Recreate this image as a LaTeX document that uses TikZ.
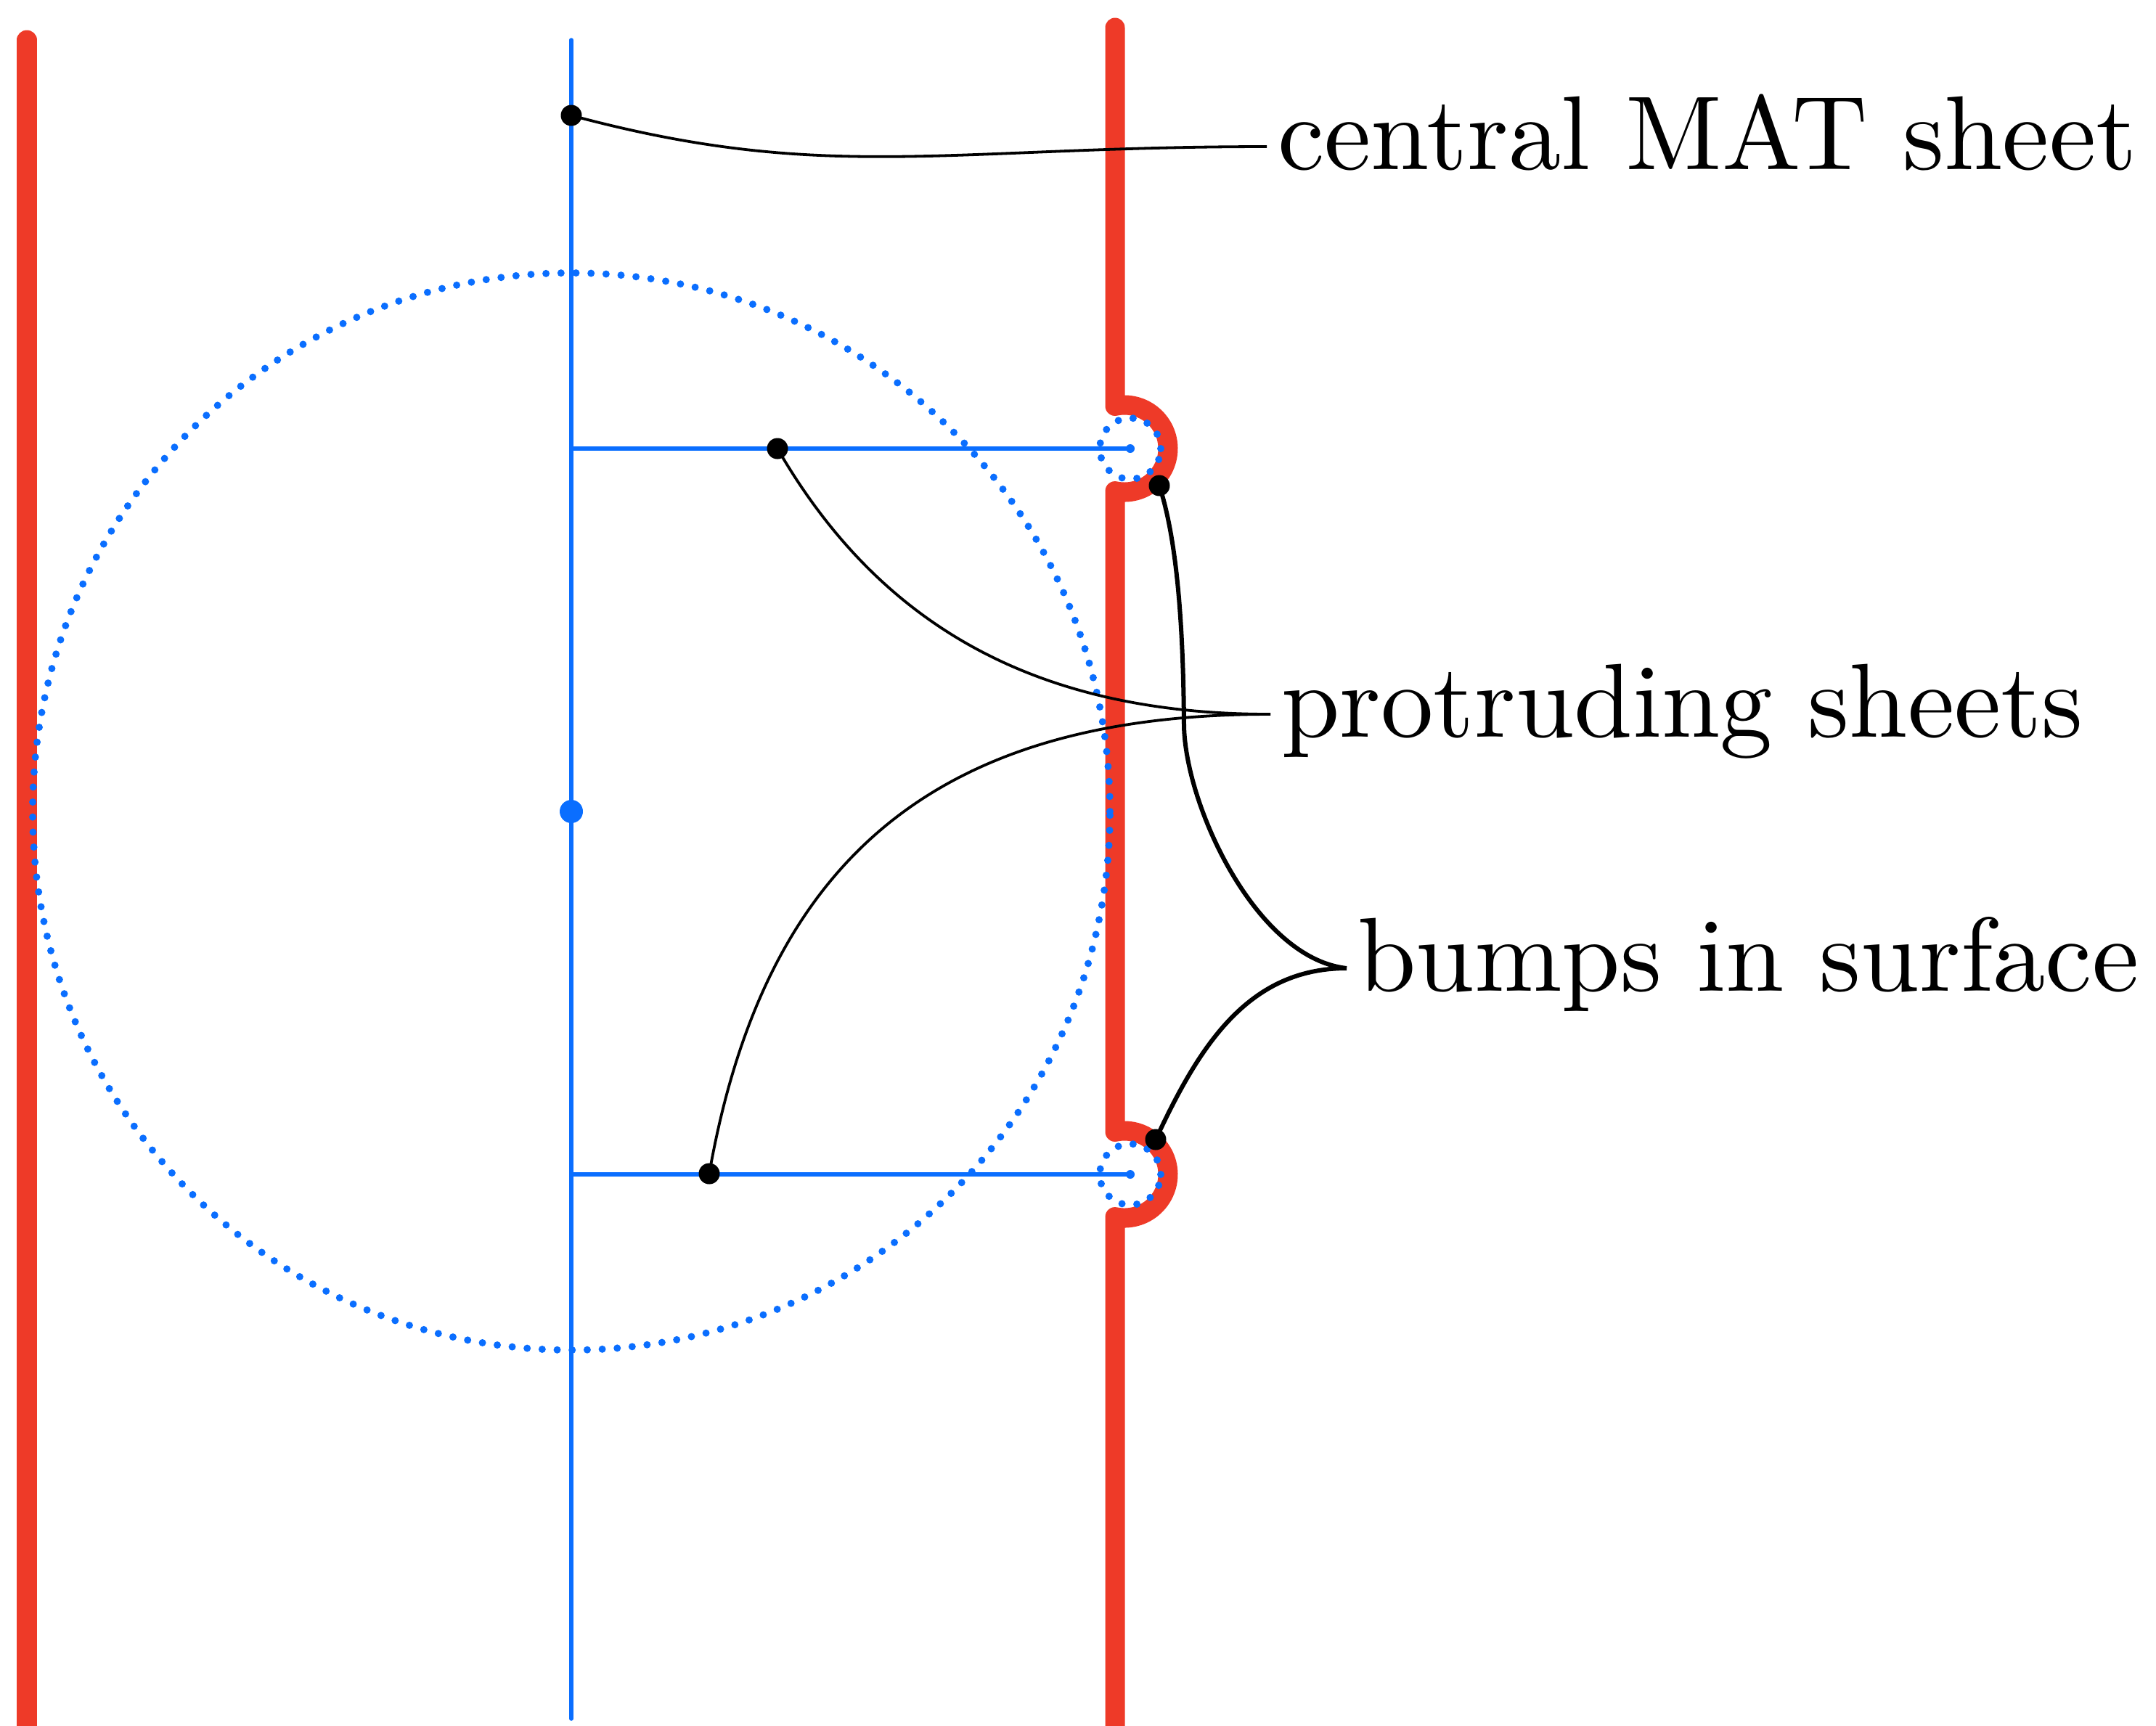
\documentclass[tikz,border=0pt]{standalone}
\usepackage{xcolor}
\usepackage{tikz}
\usetikzlibrary{calc}
\definecolor{matRed}{HTML}{EE3A28}
\definecolor{matBlue}{HTML}{0A6EFF}
\tikzset{
  surface/.style={draw=matRed, line width=2.7mm, line cap=round, line join=round},
  matline/.style={draw=matBlue, line width=0.55mm, line cap=round},
  ballline/.style={draw=matBlue, line width=1.0mm, line cap=round, dash pattern=on 0pt off 2.07mm},
  pin/.style={circle, fill=black, inner sep=0pt, minimum size=2.9mm},
  centre/.style={circle, fill=matBlue, inner sep=0pt, minimum size=3.2mm},
  tipdot/.style={circle, fill=matBlue, inner sep=0pt, minimum size=1.2mm},
  lead/.style={draw=black, line width=0.38mm},
  boldlead/.style={draw=black, line width=0.6mm},
  lbl/.style={scale=4.12, inner sep=0.3mm, anchor=mid west}
}

\begin{document}
\begin{tikzpicture}
  \useasboundingbox (0,0) rectangle (29.7,-23.77);
  % key points
  \coordinate (mid) at (7.87,-11.18);
  \coordinate (bumpA) at (15.49,-6.18);
  \coordinate (bumpB) at (15.49,-16.18);
  \coordinate (footA) at (15.57,-6.18);
  \coordinate (footB) at (15.57,-16.18);
  % surfaces
  \draw[surface] (0.37,-0.55) -- (0.37,-23.9);
  \draw[surface] (15.36,-0.38) -- ($(bumpA)+(102.5:0.6)$)
    arc[start angle=102.5, end angle=-102.5, radius=0.6]
    -- ($(bumpB)+(102.5:0.6)$)
    arc[start angle=102.5, end angle=-102.5, radius=0.6]
    -- (15.36,-23.9);
  % medial axis and balls
  \draw[matline] (7.87,-0.55) -- (7.87,-23.68);
  \draw[ballline] (mid) circle[radius=7.42];
  \draw[ballline] (footA) circle[radius=0.42];
  \draw[ballline] (footB) circle[radius=0.42];
  \draw[matline] (7.87,-6.18) -- (footA);
  \draw[matline] (7.87,-16.18) -- (footB);
  \node[tipdot] (tipA) at (footA) {};
  \node[tipdot] (tipB) at (footB) {};
  \node[centre] (ctr) at (mid) {};
  % labels
  \node[lbl] (lblmat) at (17.45,-2.02) {central MAT sheet};
  \node[lbl] (lblprot) at (17.50,-9.84) {protruding sheets};
  \node[lbl] (lblbump) at (18.55,-13.34) {bumps in surface};
  % marked points
  \node[pin] (ptop) at (7.87,-1.59) {};
  \node[pin] (pup) at (10.71,-6.18) {};
  \node[pin] (plow) at (9.77,-16.17) {};
  \node[pin] (bup) at (15.97,-6.69) {};
  \node[pin] (blow) at (15.92,-15.70) {};
  % leaders
  \draw[lead] (ptop.center) .. controls (11.37,-2.53) and (13.00,-2.02) .. (lblmat.mid west);
  \draw[lead] (pup.center) to[out=-60, in=180] (lblprot.mid west);
  \draw[lead] (plow.center) to[out=80, in=180, looseness=1.15] (lblprot.mid west);
  \draw[boldlead] (bup.center) .. controls (16.20,-7.40) and (16.30,-8.50) .. (16.31,-10.00)
    .. controls (16.33,-11.10) and (17.30,-13.20) .. (lblbump.mid west);
  \draw[boldlead] (blow.center) to[out=65, in=180] (lblbump.mid west);
\end{tikzpicture}
\end{document}
